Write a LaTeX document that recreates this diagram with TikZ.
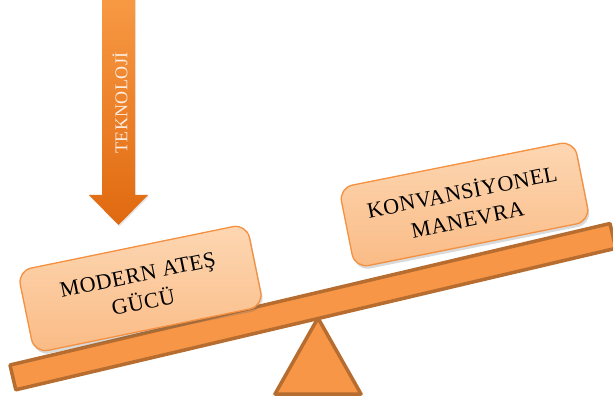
\documentclass[tikz,border=0pt]{standalone}
\usepackage{fontspec}
\setmainfont{Liberation Serif}
\usetikzlibrary{shadows}
\definecolor{beamfill}{HTML}{F79646}
\definecolor{beamedge}{HTML}{B66D2F}
\definecolor{boxtop}{HTML}{FDD7B3}
\definecolor{boxbottom}{HTML}{FABB85}
\definecolor{boxedge}{HTML}{F4903F}
\definecolor{arrowtop}{HTML}{F89A45}
\definecolor{arrowbottom}{HTML}{E0690F}
\tikzset{
  plank/.style={fill=beamfill, draw=beamedge, line width=3.5pt, line join=round},
  weightbox/.style={draw=boxedge, line width=1.3pt, rounded corners=14pt,
    top color=boxtop, bottom color=boxbottom, minimum width=234pt,
    minimum height=84pt, align=center, inner sep=0pt,
    font=\fontsize{22}{28}\selectfont\addfontfeature{LetterSpace=2.5},
    drop shadow={shadow xshift=1.5pt, shadow yshift=-3pt, opacity=0.25, fill=black!60}},
  pusharrow/.style={top color=arrowtop, bottom color=arrowbottom, draw=none},
  arrowtext/.style={text=white, text opacity=0.85,
    font=\fontsize{18}{20}\selectfont\addfontfeature{LetterSpace=2}, rotate=90, inner sep=0pt}
}
\begin{document}
\begin{tikzpicture}[x=1pt, y=-1pt]
  \useasboundingbox (0,0) rectangle (613,403);
  % fulcrum
  \draw[plank] (318,318) -- (361,394) -- (275,394) -- cycle;
  % seesaw plank
  \coordinate (pl1) at (10,365);
  \coordinate (pl2) at (610,223.5);
  \coordinate (pl3) at (615.8,248.3);
  \coordinate (pl4) at (15.8,389.8);
  \draw[plank] (pl1) -- (pl2) -- (pl3) -- (pl4) -- cycle;
  % loads on the plank
  \node[weightbox, rotate=11.6] (fire) at (140.5,288.5) {MODERN ATEŞ\\GÜCÜ};
  \node[weightbox, rotate=11.3, minimum width=240pt, minimum height=82pt] (man) at (464.5,204.5) {KONVANSİYONEL\\MANEVRA};
  % technology arrow pushing down
  \path[pusharrow, drop shadow={shadow xshift=1pt, shadow yshift=-1.5pt, opacity=0.2}]
    (102,-5) -- (135,-5) -- (135,195) -- (148,195) -- (118.5,225)
    -- (89,195) -- (102,195) -- cycle;
  \node[arrowtext] (tech) at (120,103) {TEKNOLOJİ};
\end{tikzpicture}
\end{document}
